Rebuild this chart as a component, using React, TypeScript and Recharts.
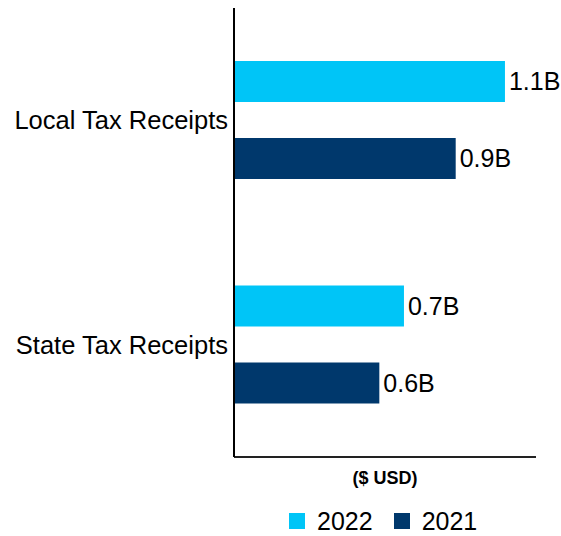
import { BarChart, Bar, XAxis, YAxis, Legend, LabelList } from "recharts"

const categories = ["Local Tax Receipts", "State Tax Receipts"]
const values2022 = [1.1, 0.69]
const values2021 = [0.9, 0.59]
const seriesNames = ["2022", "2021"]

const COLOR_2022 = "#00C5F7"
const COLOR_2021 = "#00386C"
const FONT = "'Liberation Sans', Arial, sans-serif"

const data = categories.map((name, i) => ({
  name,
  y2022: values2022[i],
  y2021: values2021[i],
}))

const fmt = (v: any) => `${Number(v).toFixed(1)}B`

// legend in the original order, square + label, under the plot area
const LegendContent = () => (
  <div style={{ display: "flex", alignItems: "center", paddingLeft: 289, height: 30 }}>
    {seriesNames.map((s, i) => (
      <div key={s} style={{ display: "flex", alignItems: "center", marginRight: i === 0 ? 21 : 0 }}>
        <span style={{ width: 16, height: 16, background: i === 0 ? COLOR_2022 : COLOR_2021, display: "inline-block", marginRight: 12 }} />
        <span style={{ fontSize: 25, lineHeight: "30px", color: "#000", fontFamily: FONT }}>{s}</span>
      </div>
    ))}
  </div>
)

export default function App() {
  return (
    <div style={{ position: "absolute", left: 0, top: 0, fontFamily: FONT }}>
      <BarChart
        width={561}
        height={536}
        data={data}
        layout="vertical"
        margin={{ top: 8, right: 25, bottom: 0, left: 0 }}
        barSize={41}
        barGap={36}
      >
        <XAxis
          type="number"
          domain={[0, 1.226]}
          ticks={[]}
          tick={false}
          height={49}
          axisLine={{ stroke: "#222", strokeWidth: 2 }}
          tickLine={false}
          label={{
            value: "($ USD)",
            position: "insideTop",
            offset: 14,
            style: { fontSize: 18, fontWeight: "bold", fill: "#000", fontFamily: FONT },
          }}
        />
        <YAxis
          type="category"
          dataKey="name"
          width={234}
          axisLine={{ stroke: "#000", strokeWidth: 2 }}
          tickLine={false}
          tickMargin={0}
          tick={{ fontSize: 25.5, fill: "#000", fontFamily: FONT }}
        />
        <Legend verticalAlign="bottom" align="left" content={<LegendContent />} />
        <Bar dataKey="y2022" name="2022" fill={COLOR_2022} isAnimationActive={false}>
          <LabelList dataKey="y2022" position="right" offset={4} formatter={fmt} style={{ fontSize: 25, fill: "#000", fontFamily: FONT }} />
        </Bar>
        <Bar dataKey="y2021" name="2021" fill={COLOR_2021} isAnimationActive={false}>
          <LabelList dataKey="y2021" position="right" offset={4} formatter={fmt} style={{ fontSize: 25, fill: "#000", fontFamily: FONT }} />
        </Bar>
      </BarChart>
    </div>
  )
}
